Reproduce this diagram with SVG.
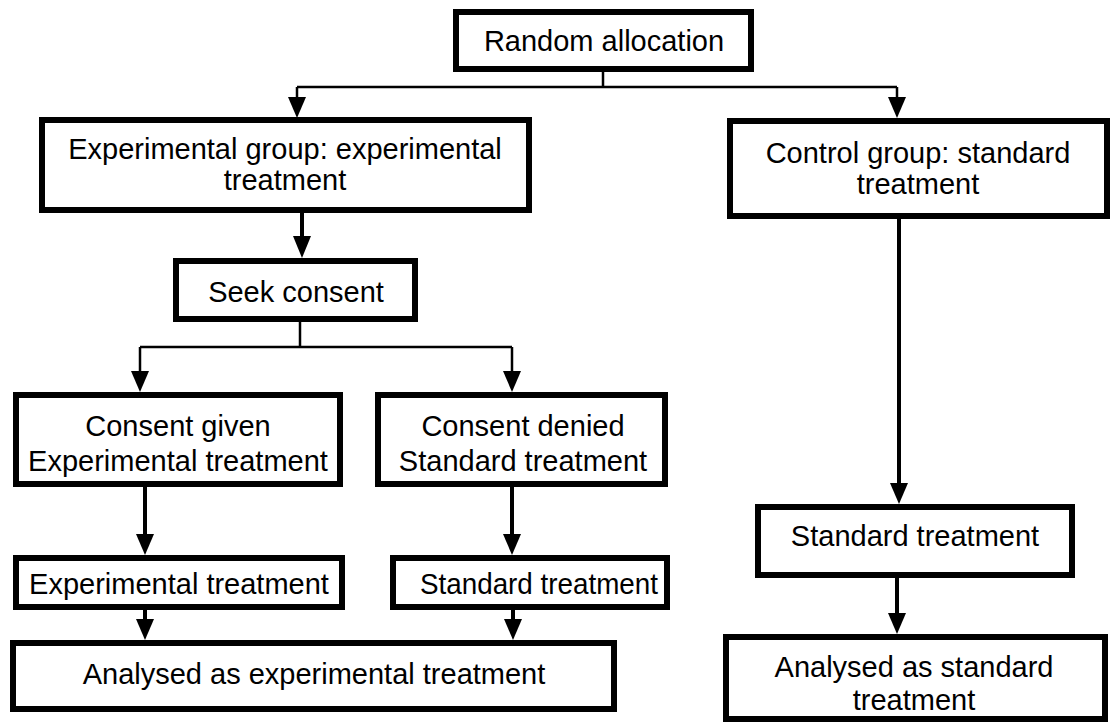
<svg xmlns="http://www.w3.org/2000/svg" width="1111" height="727" viewBox="0 0 1111 727">
  <style>
    .box { fill: #fff; stroke: #000; stroke-width: 6; }
    .lbl { font-family: "Liberation Sans", Arial, sans-serif; font-size: 29px; fill: #000; text-anchor: middle; }
    .thin { fill: none; stroke: #000; stroke-width: 2.5; }
    .shaft { fill: none; stroke: #000; stroke-width: 4; }
  </style>
  <rect width="1111" height="727" fill="#fff"/>

  <!-- connectors: lines plus filled arrowheads -->
  <g id="connectors">
    <!-- random allocation split -->
    <line class="thin" x1="603" y1="72" x2="603" y2="87"/>
    <line class="thin" x1="297" y1="87" x2="897" y2="87"/>
    <line class="thin" x1="297" y1="87" x2="297" y2="97"/>
    <path d="M288,97 L306,97 L297,118 Z"/>
    <line class="thin" x1="897" y1="87" x2="897" y2="97"/>
    <path d="M888,97 L906,97 L897,118 Z"/>
    <!-- experimental group to seek consent -->
    <line class="shaft" x1="302" y1="213" x2="302" y2="237"/>
    <path d="M293,236 L311,236 L302,258 Z"/>
    <!-- seek consent split -->
    <line class="thin" x1="300" y1="322" x2="300" y2="347"/>
    <line class="thin" x1="140" y1="347" x2="512" y2="347"/>
    <line class="thin" x1="140" y1="347" x2="140" y2="372"/>
    <path d="M131,371 L149,371 L140,392 Z"/>
    <line class="thin" x1="512" y1="347" x2="512" y2="372"/>
    <path d="M503,371 L521,371 L512,392 Z"/>
    <!-- consent boxes to treatments -->
    <line class="shaft" x1="145" y1="487" x2="145" y2="535"/>
    <path d="M136,534 L154,534 L145,555 Z"/>
    <line class="shaft" x1="512" y1="487" x2="512" y2="535"/>
    <path d="M503,534 L521,534 L512,555 Z"/>
    <!-- treatments to analysis -->
    <line class="shaft" x1="145" y1="610" x2="145" y2="620"/>
    <path d="M136,619 L154,619 L145,640 Z"/>
    <line class="shaft" x1="513" y1="610" x2="513" y2="620"/>
    <path d="M504,619 L522,619 L513,640 Z"/>
    <!-- control arm -->
    <line class="shaft" x1="899" y1="219" x2="899" y2="484"/>
    <path d="M890,483 L908,483 L899,504 Z"/>
    <line class="shaft" x1="897" y1="578" x2="897" y2="614"/>
    <path d="M888,613 L906,613 L897,634 Z"/>
  </g>

  <g id="random">
    <rect class="box" x="456" y="12" width="295" height="57"/>
    <text class="lbl" x="604" y="51">Random allocation</text>
  </g>
  <g id="experimental-group">
    <rect class="box" x="42" y="120" width="487" height="90"/>
    <text class="lbl" x="285" y="159">Experimental group: experimental</text>
    <text class="lbl" x="285" y="190">treatment</text>
  </g>
  <g id="control-group">
    <rect class="box" x="730" y="121" width="377" height="95"/>
    <text class="lbl" x="918" y="163">Control group: standard</text>
    <text class="lbl" x="918" y="194">treatment</text>
  </g>
  <g id="seek-consent">
    <rect class="box" x="176" y="261" width="239" height="58"/>
    <text class="lbl" x="296" y="302">Seek consent</text>
  </g>
  <g id="consent-given">
    <rect class="box" x="16" y="395" width="324" height="89"/>
    <text class="lbl" x="178" y="436">Consent given</text>
    <text class="lbl" x="178" y="471">Experimental treatment</text>
  </g>
  <g id="consent-denied">
    <rect class="box" x="378" y="395" width="287" height="89"/>
    <text class="lbl" x="523" y="436">Consent denied</text>
    <text class="lbl" x="523" y="471">Standard treatment</text>
  </g>
  <g id="experimental-treatment">
    <rect class="box" x="16" y="558" width="326" height="49"/>
    <text class="lbl" x="179" y="594">Experimental treatment</text>
  </g>
  <g id="standard-treatment-left">
    <rect class="box" x="393" y="558" width="274" height="49"/>
    <text class="lbl" x="539" y="594" textLength="238" lengthAdjust="spacingAndGlyphs">Standard treatment</text>
  </g>
  <g id="analysed-experimental">
    <rect class="box" x="13" y="643" width="601" height="66"/>
    <text class="lbl" x="314" y="684">Analysed as experimental treatment</text>
  </g>
  <g id="standard-treatment-right">
    <rect class="box" x="758" y="507" width="314" height="68"/>
    <text class="lbl" x="915" y="546">Standard treatment</text>
  </g>
  <g id="analysed-standard">
    <rect class="box" x="726" y="637" width="379" height="82"/>
    <text class="lbl" x="914" y="677">Analysed as standard</text>
    <text class="lbl" x="914" y="710">treatment</text>
  </g>
</svg>
